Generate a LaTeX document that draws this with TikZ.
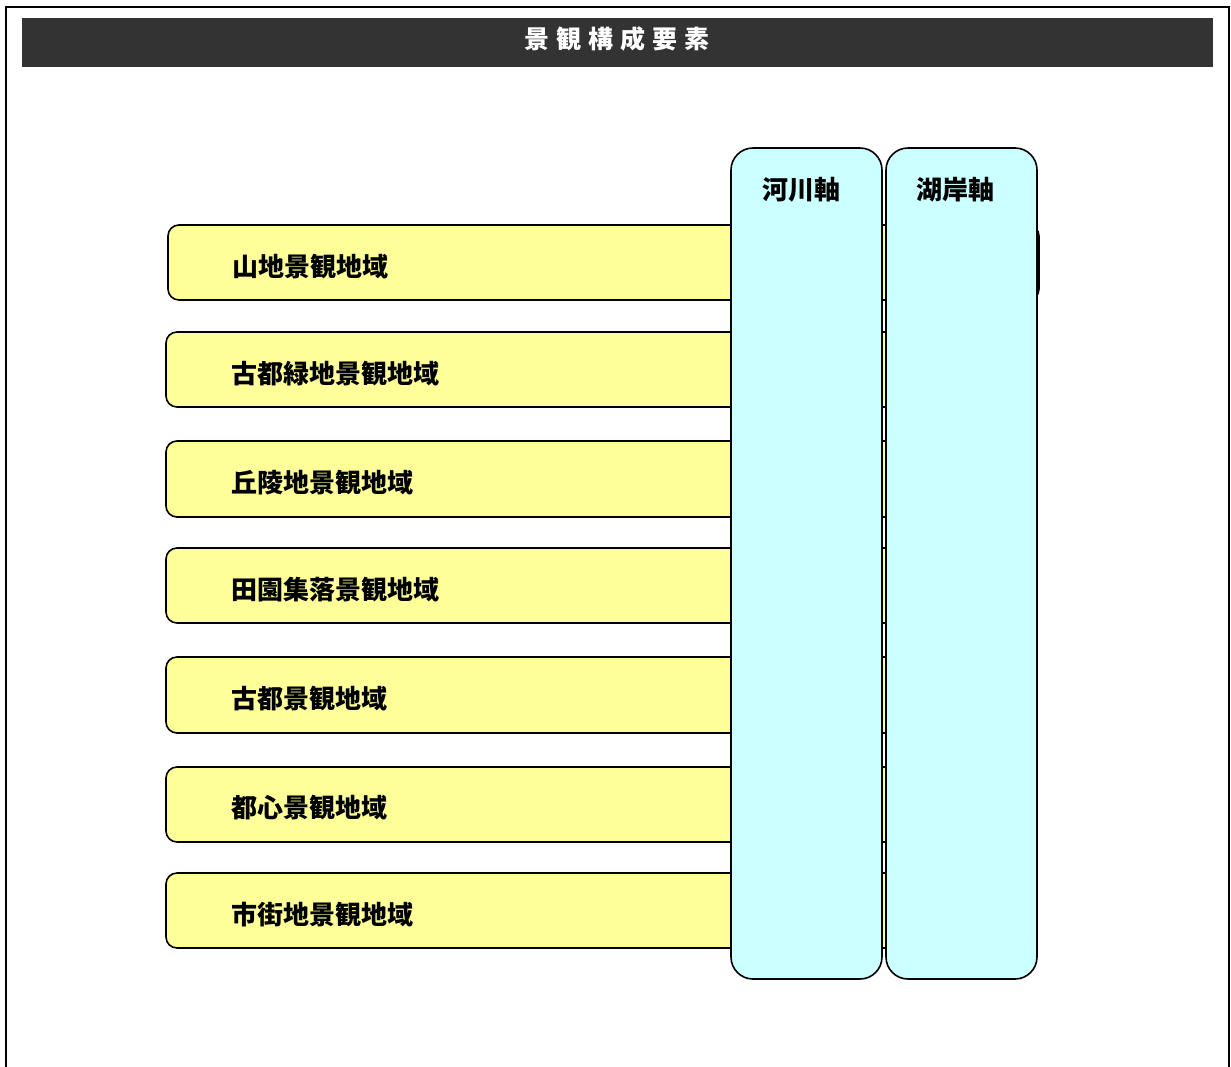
\documentclass[tikz,border=0pt]{standalone}
\usepackage{fontspec}
\newfontfamily\jp{Noto Sans CJK JP}
\definecolor{baryellow}{HTML}{FFFF99}
\definecolor{colcyan}{HTML}{CCFFFF}
\definecolor{titlegray}{HTML}{333333}
\tikzset{
  barbox/.style={draw=black, line width=1.6pt, fill=baryellow, rounded corners=11pt},
  colbox/.style={draw=black, line width=1.6pt, fill=colcyan, rounded corners=22pt},
  barlabel/.style={anchor=west, inner sep=0pt, font=\jp\bfseries\fontsize{26}{30}\selectfont},
  collabel/.style={anchor=center, inner sep=0pt, font=\jp\bfseries\fontsize{26}{30}\selectfont},
}
\begin{document}
\begin{tikzpicture}[x=1pt,y=-1pt]
\useasboundingbox (0,0) rectangle (1231,1066);
\fill[white] (0,0) rectangle (1231,1066);
% outer frame
\draw[line width=2pt] (5.5,1070) -- (5.5,7) -- (1229,7) -- (1229,1070);
% title bar
\fill[titlegray] (22,18) rectangle (1213,67);
\node[text=white, inner sep=0pt, font=\jp\bfseries\fontsize{25}{30}\selectfont] (title) at (617,39)
  {景\hspace{7pt}観\hspace{7pt}構\hspace{7pt}成\hspace{7pt}要\hspace{7pt}素};
% bars
\draw[barbox] (168,225) rectangle (1039,300);
\draw[barbox] (166,332) rectangle (1036,407);
\draw[barbox] (166,441) rectangle (1036,517);
\draw[barbox] (166,548) rectangle (1036,623);
\draw[barbox] (166,657) rectangle (1036,733);
\draw[barbox] (166,767) rectangle (1036,842);
\draw[barbox] (166,873) rectangle (1036,948);
\node[barlabel] (l1) at (232,267) {山地景観地域};
\node[barlabel] (l2) at (231,374) {古都緑地景観地域};
\node[barlabel] (l3) at (231,483) {丘陵地景観地域};
\node[barlabel] (l4) at (231,590) {田園集落景観地域};
\node[barlabel] (l5) at (231,699) {古都景観地域};
\node[barlabel] (l6) at (231,808) {都心景観地域};
\node[barlabel] (l7) at (231,915) {市街地景観地域};
% columns
\draw[colbox] (731,148) rectangle (882,979);
\draw[colbox] (886,148) rectangle (1037,979);
\node[collabel] (c1) at (801,190) {河川軸};
\node[collabel] (c2) at (955,190) {湖岸軸};
\end{tikzpicture}
\end{document}
